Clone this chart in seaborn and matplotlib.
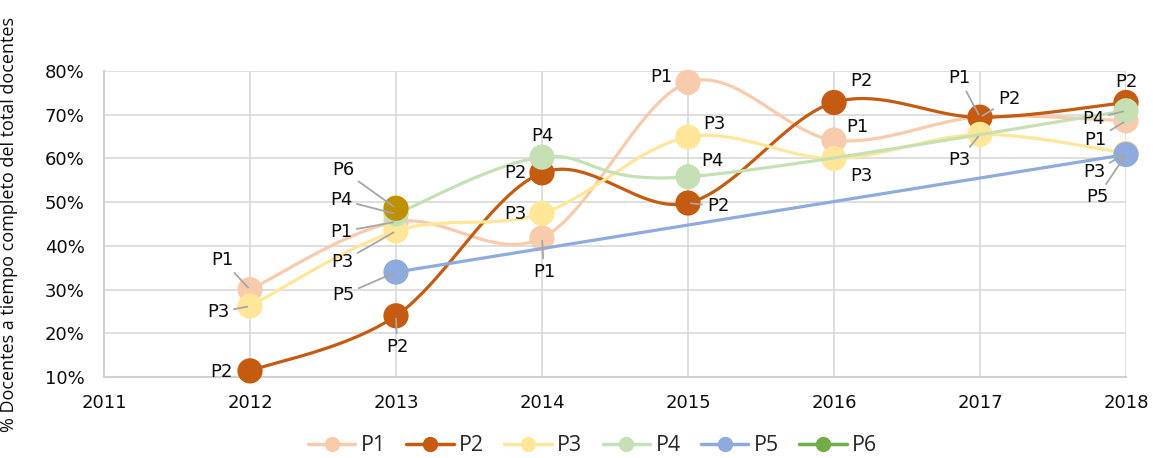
import matplotlib
matplotlib.use("Agg")
import matplotlib.pyplot as plt
import numpy as np
import pandas as pd
import seaborn as sns
from matplotlib.lines import Line2D

years = [2012, 2013, 2014, 2015, 2016, 2017, 2018]
series_names = ["P1", "P2", "P3", "P4", "P5", "P6"]
p1 = [30.0, 45.5, 41.8, 77.4, 64.2, 69.5, 68.6]
p2 = [11.4, 24.0, 56.7, 49.8, 72.8, 69.4, 72.8]
p3 = [26.2, 43.4, 47.4, 64.9, 60.0, 65.5, 61.2]
p4 = [None, 47.3, 60.3, 55.8, None, None, 70.9]
p5 = [None, 34.0, None, None, None, None, 60.9]
p6 = [None, 48.6, None, None, None, None, None]
values = dict(zip(series_names, [p1, p2, p3, p4, p5, p6]))

colors = {"P1": "#F8CBAD", "P2": "#C55A11", "P3": "#FFE699",
          "P4": "#C5E0B4", "P5": "#8FAADC", "P6": "#70AD47"}
point_colors = {"P6": "#BF9000"}

# data labels: series, year, offset in pixels (dx, dy), leader line
labels = [
    ("P1", 2012, -28, 30, True), ("P3", 2012, -32, -6, True), ("P2", 2012, -29, -1, False),
    ("P6", 2013, -53, 38, True), ("P4", 2013, -55, 14, True), ("P1", 2013, -55, -10, True),
    ("P3", 2013, -54, -31, True), ("P5", 2013, -53, -23, True), ("P2", 2013, 1, -31, True),
    ("P4", 2014, 0, 21, False), ("P2", 2014, -27, 0, False), ("P3", 2014, -27, 0, False),
    ("P1", 2014, 2, -34, True),
    ("P1", 2015, -27, 5, False), ("P3", 2015, 26, 13, False), ("P4", 2015, 24, 16, False),
    ("P2", 2015, 30, -3, True),
    ("P2", 2016, 27, 21, False), ("P1", 2016, 23, 13, False), ("P3", 2016, 27, -18, False),
    ("P1", 2017, -21, 39, True), ("P2", 2017, 29, 18, True), ("P3", 2017, -21, -26, True),
    ("P2", 2018, 0, 20, False), ("P4", 2018, -33, -8, True), ("P1", 2018, -31, -19, True),
    ("P3", 2018, -32, -19, True), ("P5", 2018, -29, -43, True),
]


def smooth(xs, ys, n=40):
    # Catmull-Rom style Bezier smoothing, like a spreadsheet "smoothed line"
    pts = np.column_stack([xs, ys]).astype(float)
    if len(pts) < 2:
        return pts[:, 0], pts[:, 1]
    out = [pts[:1]]
    t = np.linspace(0, 1, n)[1:, None]
    for i in range(len(pts) - 1):
        p0 = pts[max(i - 1, 0)]
        p1_, p2_ = pts[i], pts[i + 1]
        p3_ = pts[min(i + 2, len(pts) - 1)]
        c1 = p1_ + (p2_ - p0) / 6
        c2 = p2_ - (p3_ - p1_) / 6
        seg = ((1 - t) ** 3) * p1_ + 3 * ((1 - t) ** 2) * t * c1 + 3 * (1 - t) * t ** 2 * c2 + t ** 3 * p2_
        out.append(seg)
    curve = np.vstack(out)
    return curve[:, 0], curve[:, 1]


sns.set_style("white")
plt.rcParams["font.family"] = ["DejaVu Sans"]

fig = plt.figure(figsize=(11.53, 4.58), dpi=100)
ax = fig.add_axes([104 / 1153, 1 - 377 / 458, 1022 / 1153, 306 / 458])

z = 3
for name in series_names:
    df = pd.DataFrame({"year": years, "value": values[name]}).dropna()
    if len(df) > 1:
        cx, cy = smooth(df["year"].values, df["value"].values)
        sns.lineplot(x=cx, y=cy, ax=ax, color=colors[name], linewidth=2.3,
                     sort=False, estimator=None, zorder=z, clip_on=False)
    sns.scatterplot(data=df, x="year", y="value", ax=ax, s=330,
                    color=point_colors.get(name, colors[name]), edgecolor="none",
                    zorder=z + 1, clip_on=False, legend=False)
    z += 2

for name, yr, dx, dy, leader in labels:
    yv = values[name][years.index(yr)]
    arrow = dict(arrowstyle="-", color="#A6A6A6", lw=1.3, shrinkA=1, shrinkB=2) if leader else None
    ax.annotate(name, xy=(yr, yv), xytext=(dx, dy), textcoords="offset pixels",
                ha="center", va="center", fontsize=13, color="#0d0d0d",
                arrowprops=arrow, zorder=30, annotation_clip=False)

ax.set_xlim(2011, 2018)
ax.set_ylim(10, 80)
ax.set_xticks(range(2011, 2019))
ax.set_yticks(range(10, 81, 10))
ax.set_yticklabels([f"{v}%" for v in range(10, 81, 10)])
ax.tick_params(axis="both", length=0, labelsize=13, colors="#0d0d0d")
ax.tick_params(axis="x", pad=12)
ax.tick_params(axis="y", pad=14)
ax.grid(True, color="#D9D9D9", linewidth=1.2)
ax.set_axisbelow(True)
for side in ["top", "right"]:
    ax.spines[side].set_visible(False)
for side in ["left", "bottom"]:
    ax.spines[side].set_color("#D0D0D0")
    ax.spines[side].set_linewidth(1.5)
ax.set_xlabel("")
ax.set_ylabel("% Docentes a tiempo completo del total docentes",
              fontsize=13, family=["Open Sans", "DejaVu Sans"], color="#0d0d0d")
ax.yaxis.set_label_coords(-0.084, 0.50)

handles = [Line2D([0], [0], color=colors[n], lw=2.5, marker="o", markersize=10,
                  markerfacecolor=colors[n], markeredgecolor=colors[n]) for n in series_names]
fig.legend(handles, series_names, loc="center", bbox_to_anchor=(0.514, 0.027), ncol=6,
           frameon=False, handlelength=2.2, columnspacing=0.95, handletextpad=0.25,
           prop={"family": ["Open Sans", "DejaVu Sans"], "size": 15.5})

fig.savefig("out.png", dpi=100)
